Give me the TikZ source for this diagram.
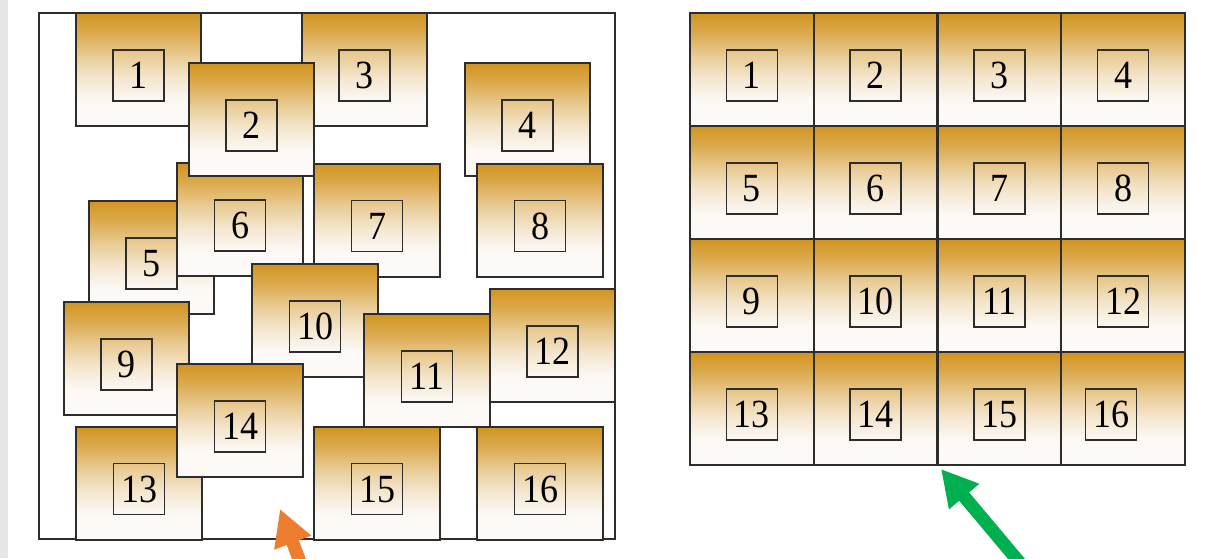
\documentclass[tikz,border=0pt]{standalone}
\usepackage{fontspec}
\setmainfont{Liberation Serif}
\usetikzlibrary{arrows.meta}
\definecolor{tilegold}{RGB}{210,148,32}
\definecolor{tilewhite}{RGB}{252,249,246}
\definecolor{edgegray}{RGB}{45,45,45}
\definecolor{orangearrow}{RGB}{237,125,49}
\definecolor{greenarrow}{RGB}{0,176,80}
\definecolor{sidegray}{RGB}{230,230,230}
\pgfdeclareverticalshading{tileshade}{100bp}{color(0bp)=(tilewhite); color(25bp)=(tilewhite); color(36bp)=(tilewhite); color(46bp)=(tilegold!18!tilewhite); color(56bp)=(tilegold!45!tilewhite); color(66bp)=(tilegold!78!tilewhite); color(75bp)=(tilegold); color(100bp)=(tilegold)}
\newcommand{\numtxt}[1]{\scalebox{0.9}[1]{#1}}
\tikzset{
  tile/.style={draw=edgegray, line width=2pt, shading=tileshade, minimum width=125.5pt, minimum height=113pt, inner sep=0pt},
  cell/.style={tile, minimum width=123.75pt},
  tag/.style={draw=edgegray, line width=1.6pt, minimum size=51pt, inner sep=0pt, font=\fontsize{40}{40}\selectfont},
  frame/.style={draw=edgegray, line width=2pt, fill=white, inner sep=0pt},
  bigarrow/.style={line width=13pt, -{Triangle[width=37pt,length=36pt]}}
}
\newcommand{\tileat}[5]{%
  \node[#5] (#1) at (#2,#3) {};
  \node[tag] (#1t) at ([yshift=-6pt]#1.center) {\numtxt{#4}};
}
\begin{document}
\begin{tikzpicture}[x=1pt,y=-1pt]
\useasboundingbox (0,0) rectangle (1209,558);
\clip (0,0) rectangle (1209,558);
\fill[white] (0,0) rectangle (1209,558);
\fill[sidegray] (0,0) rectangle (8,558);

% left panel
\node[frame, minimum width=576pt, minimum height=526pt] (leftframe) at (327,276) {};
\tileat{L1}{138.5}{69.5}{1}{tile}
\tileat{L3}{364.5}{69.5}{3}{tile}
\tileat{L4}{527.5}{119.5}{4}{tile}
\tileat{L5}{151.5}{257.5}{5}{tile}
\tileat{L6}{240}{219.5}{6}{tile}
\tileat{L2}{251.5}{119.5}{2}{tile}
\tileat{L7}{377}{220}{7}{tile}
\tileat{L8}{540}{220}{8}{tile}
\tileat{L9}{126.5}{358.5}{9}{tile}
\tileat{L10}{315}{320.5}{10}{tile}
\tileat{L11}{427}{370.5}{11}{tile}
\tileat{L12}{552.5}{345.5}{12}{tile}
\tileat{L13}{139}{483}{13}{tile}
\tileat{L14}{240}{420.5}{14}{tile}
\tileat{L15}{377}{483}{15}{tile}
\tileat{L16}{540}{483}{16}{tile}

% right panel
\tileat{R1}{751.9}{69.5}{1}{cell}
\tileat{R2}{875.6}{69.5}{2}{cell}
\tileat{R3}{999.4}{69.5}{3}{cell}
\tileat{R4}{1123.1}{69.5}{4}{cell}
\tileat{R5}{751.9}{182.5}{5}{cell}
\tileat{R6}{875.6}{182.5}{6}{cell}
\tileat{R7}{999.4}{182.5}{7}{cell}
\tileat{R8}{1123.1}{182.5}{8}{cell}
\tileat{R9}{751.9}{295.5}{9}{cell}
\tileat{R10}{875.6}{295.5}{10}{cell}
\tileat{R11}{999.4}{295.5}{11}{cell}
\tileat{R12}{1123.1}{295.5}{12}{cell}
\tileat{R13}{751.9}{408.5}{13}{cell}
\tileat{R14}{875.6}{408.5}{14}{cell}
\tileat{R15}{999.4}{408.5}{15}{cell}
\node[cell] (R16) at (1123.1,408.5) {};
\node[tag] (R16t) at ([xshift=-12pt,yshift=-6pt]R16.center) {\numtxt{16}};

% arrows
\coordinate (otail) at (305,575);
\coordinate (otip) at (280,509);
\coordinate (gtail) at (1030,575);
\coordinate (gtip) at (941,469);
\draw[bigarrow, draw=orangearrow, fill=orangearrow] (otail) -- (otip);
\draw[bigarrow, draw=greenarrow, fill=greenarrow] (gtail) -- (gtip);
\end{tikzpicture}
\end{document}
